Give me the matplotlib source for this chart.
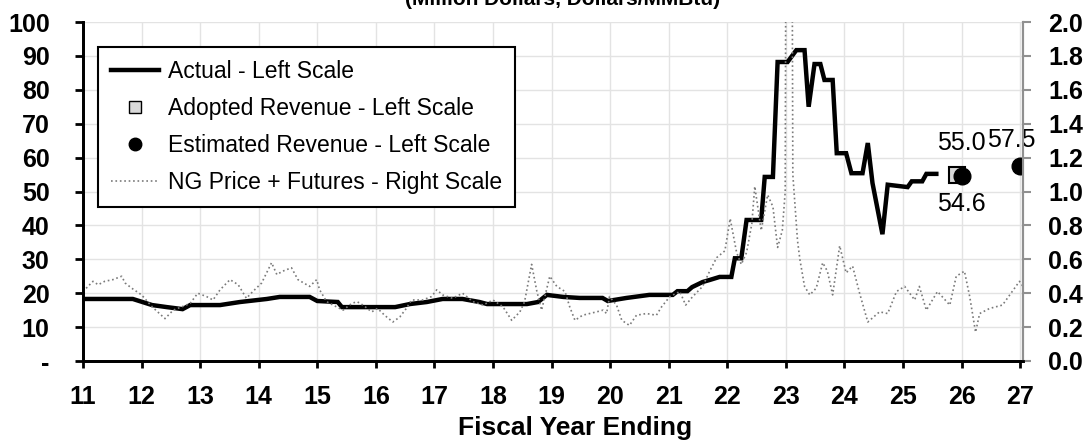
import matplotlib
matplotlib.use("Agg")
import matplotlib.pyplot as plt
from matplotlib.lines import Line2D

plt.rcParams['font.family'] = ['Liberation Sans', 'DejaVu Sans']

# actual revenue (left scale, million $) - breakpoints
actual_x = [11.0, 11.85, 12.18, 12.43, 12.7, 12.83, 13.34, 13.68, 14.14, 14.36,
            14.87, 15.0, 15.35, 15.42, 16.33, 16.58, 16.87, 17.14, 17.48, 17.77,
            17.9, 18.58, 18.77, 18.92, 19.2, 19.48, 19.87, 19.96, 20.28, 20.67,
            21.07, 21.15, 21.32, 21.4, 21.58, 21.7, 21.87, 22.07, 22.13, 22.24,
            22.33, 22.58, 22.64, 22.78, 22.86, 23.03, 23.18, 23.32, 23.39, 23.49,
            23.59, 23.66, 23.8, 23.87, 24.03, 24.12, 24.31, 24.4, 24.48, 24.65,
            24.74, 25.08, 25.15, 25.33, 25.4, 25.57]
actual_y = [18.3, 18.3, 16.5, 15.9, 15.3, 16.5, 16.5, 17.4, 18.3, 18.9,
            18.9, 17.7, 17.4, 15.9, 15.9, 16.8, 17.4, 18.3, 18.3, 17.4,
            16.8, 16.8, 17.4, 19.5, 18.9, 18.6, 18.6, 17.7, 18.6, 19.5,
            19.5, 20.6, 20.6, 21.8, 23.3, 23.9, 24.8, 24.8, 30.3, 30.3,
            41.6, 41.6, 54.3, 54.3, 88.2, 88.2, 91.7, 91.7, 75.0, 87.6,
            87.6, 82.9, 82.9, 61.3, 61.3, 55.4, 55.4, 64.3, 52.5, 37.4,
            52.0, 51.3, 53.0, 53.0, 55.2, 55.2]

# NG price + futures (right scale, $/MMBtu)
ng_x = [11.0, 11.17, 11.26, 11.37, 11.51, 11.66, 11.72, 11.83, 12.0, 12.18,
        12.4, 12.54, 12.69, 12.83, 12.96, 13.11, 13.22, 13.34, 13.51, 13.65,
        13.79, 13.9, 14.05, 14.22, 14.31, 14.41, 14.56, 14.67, 14.87, 14.99,
        15.04, 15.16, 15.27, 15.44, 15.59, 15.68, 15.78, 15.93, 16.03, 16.15,
        16.29, 16.41, 16.52, 16.61, 16.8, 16.95, 17.04, 17.14, 17.31, 17.48,
        17.66, 17.83, 18.0, 18.17, 18.32, 18.46, 18.54, 18.66, 18.75, 18.83,
        18.97, 19.09, 19.23, 19.31, 19.4, 19.53, 19.65, 19.77, 19.88, 19.94,
        19.99, 20.11, 20.2, 20.33, 20.45, 20.62, 20.79, 20.88, 21.02, 21.19,
        21.29, 21.41, 21.58, 21.7, 21.82, 21.96, 22.05, 22.16, 22.24, 22.33,
        22.42, 22.47, 22.52, 22.58, 22.69, 22.78, 22.86, 22.94, 22.99, 23.05,
        23.12, 23.2, 23.24, 23.32, 23.41, 23.52, 23.63, 23.71, 23.8, 23.92,
        24.03, 24.14, 24.26, 24.4, 24.6, 24.74, 24.89, 25.03, 25.2, 25.28,
        25.4, 25.59, 25.8, 25.91, 26.05, 26.14, 26.24, 26.31, 26.48, 26.7,
        26.99, 27.05]
ng_y = [0.41, 0.47, 0.45, 0.47, 0.48, 0.50, 0.46, 0.43, 0.39, 0.32,
        0.25, 0.30, 0.32, 0.34, 0.40, 0.38, 0.36, 0.42, 0.48, 0.45,
        0.37, 0.41, 0.46, 0.58, 0.51, 0.53, 0.55, 0.48, 0.44, 0.48,
        0.42, 0.35, 0.33, 0.30, 0.34, 0.35, 0.33, 0.29, 0.31, 0.27,
        0.23, 0.26, 0.31, 0.36, 0.36, 0.38, 0.42, 0.39, 0.37, 0.40,
        0.35, 0.33, 0.36, 0.32, 0.24, 0.29, 0.35, 0.57, 0.41, 0.30,
        0.50, 0.44, 0.41, 0.32, 0.24, 0.27, 0.28, 0.29, 0.30, 0.28,
        0.38, 0.33, 0.24, 0.21, 0.27, 0.28, 0.27, 0.32, 0.38, 0.41,
        0.33, 0.38, 0.44, 0.53, 0.61, 0.65, 0.84, 0.64, 0.57, 0.64,
        0.81, 1.03, 0.91, 0.77, 0.98, 0.91, 0.67, 0.77, 1.0, 9.0,
        1.1, 0.71, 0.60, 0.44, 0.39, 0.43, 0.58, 0.53, 0.39, 0.68,
        0.52, 0.56, 0.40, 0.23, 0.29, 0.28, 0.41, 0.44, 0.36, 0.44,
        0.30, 0.41, 0.33, 0.50, 0.53, 0.38, 0.17, 0.28, 0.31, 0.33,
        0.47, 0.44]

adopted_x = [25.92]
adopted_y = [55.0]
estimated_x = [26.0, 27.0]
estimated_y = [54.6, 57.5]

year_ticks = list(range(11, 28))
left_ticks = list(range(0, 101, 10))
left_labels = ['-'] + [str(v) for v in left_ticks[1:]]
right_ticks = [v / 10 for v in range(0, 21, 2)]

fig = plt.figure(figsize=(10.88, 4.42), dpi=100)
fig.subplots_adjust(left=83/1088, right=1023/1088, bottom=1-361/442, top=1-22/442)
ax1 = fig.add_subplot(111)
ax2 = ax1.twinx()

ax1.plot(actual_x, actual_y, color='black', lw=3.2, solid_joinstyle='miter', zorder=3)
ax1.plot(adopted_x, adopted_y, ls='none', marker='s', ms=11, mfc='#d9d9d9',
         mec='black', mew=1.5, zorder=4)
ax1.plot(estimated_x, estimated_y, ls='none', marker='o', ms=12, color='black', zorder=5)

ax2.plot(ng_x, ng_y, color='#7a7a7a', lw=1.2, ls=':')

ax1.annotate('55.0', (adopted_x[0], adopted_y[0]), xytext=(3, 23), textcoords='offset points',
             ha='center', va='center', fontsize=18)
ax1.annotate('54.6', (estimated_x[0], estimated_y[0]), xytext=(0, -20), textcoords='offset points',
             ha='center', va='center', fontsize=18)
ax1.annotate('57.5', (estimated_x[1], estimated_y[1]), xytext=(-6, 19), textcoords='offset points',
             ha='center', va='center', fontsize=18)

ax1.set_xlim(11, 27.05)
ax1.set_ylim(0, 100)
ax2.set_ylim(0, 2.0)

ax1.set_xticks(year_ticks)
ax1.set_xticklabels([str(y) for y in year_ticks], fontsize=18, fontweight='bold')
ax1.set_yticks(left_ticks)
ax1.set_yticklabels(left_labels, fontsize=18, fontweight='bold')
ax2.set_yticks(right_ticks)
ax2.set_yticklabels(['%.1f' % v for v in right_ticks], fontsize=18, fontweight='bold')

ax1.grid(True, color='#e3e3e3', lw=1)
ax1.set_axisbelow(True)

ax1.tick_params(axis='x', length=5, width=2, pad=12)
ax1.tick_params(axis='y', length=6, width=2, pad=18)
ax2.tick_params(axis='y', length=6, width=1.5, color='#909090', pad=12)

for ax in (ax1, ax2):
    ax.spines['top'].set_visible(False)
    ax.spines['left'].set_linewidth(2)
    ax.spines['bottom'].set_linewidth(2)
    ax.spines['right'].set_linewidth(1.5)
    ax.spines['right'].set_color('#909090')

ax1.set_xlabel('Fiscal Year Ending', fontsize=19, fontweight='bold')
ax1.xaxis.set_label_coords(0.523, -0.163)

fig.text(563/1088, 1 - 5/442, '(Million Dollars, Dollars/MMBtu)', ha='center', va='baseline',
         fontsize=15, fontweight='bold')

handles = [
    Line2D([], [], color='black', lw=3.2),
    Line2D([], [], ls='none', marker='s', ms=9, mfc='#d9d9d9', mec='black', mew=1),
    Line2D([], [], ls='none', marker='o', ms=9, color='black'),
    Line2D([], [], color='#7a7a7a', lw=1.2, ls=':'),
]
labels = ['Actual - Left Scale', 'Adopted Revenue - Left Scale',
          'Estimated Revenue - Left Scale', 'NG Price + Futures - Right Scale']
leg = ax2.legend(handles, labels, loc='upper left', bbox_to_anchor=(0.016, 0.926),
                 borderaxespad=0, fontsize=16.5, frameon=True, fancybox=False,
                 framealpha=1, edgecolor='black', handlelength=2.1, handletextpad=0.4,
                 borderpad=0.55, labelspacing=0.62)
leg.get_frame().set_linewidth(1.5)

fig.savefig('out.png', dpi=100)
